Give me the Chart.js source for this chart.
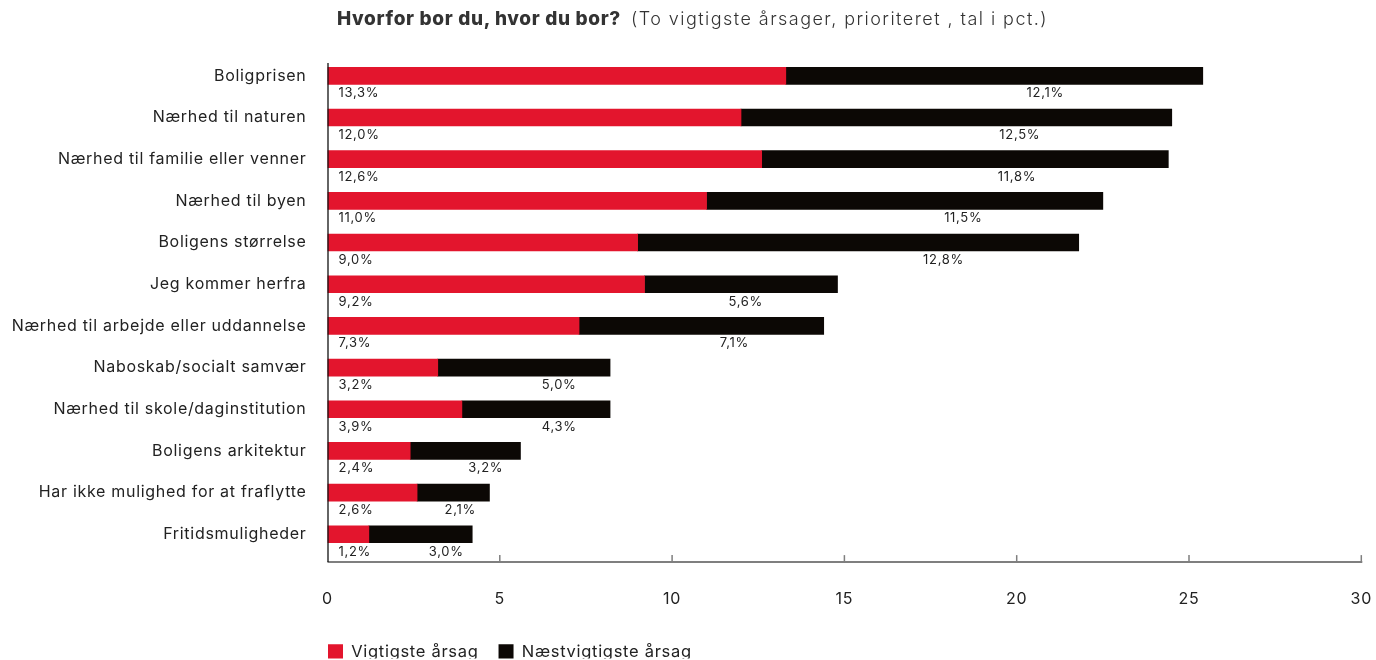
<!DOCTYPE html>
<html>
<head>
<meta charset="utf-8">
<script src="https://cdn.jsdelivr.net/npm/chart.js@4.4.1/dist/chart.umd.min.js"></script>
<style>
  html, body { margin: 0; padding: 0; background: #ffffff; }
  #wrap { position: relative; width: 1376px; height: 660px; overflow: hidden; }
  #c { position: absolute; left: 0; top: 0; }
  .tt { position: absolute; font-family: Inter, "Open Sans", sans-serif; white-space: nowrap; color: #333333; }
  #tBold { left: 337px; top: 9px; font-size: 19px; line-height: 19px; font-weight: 800; }
  #tReg { left: 631px; top: 10px; font-size: 18px; line-height: 18px; font-weight: 300; }
</style>
</head>
<body>
<div id="wrap">
  <canvas id="c" width="1376" height="660"></canvas>
  <div class="tt" id="tBold">Hvorfor bor du, hvor du bor?</div>
  <div class="tt" id="tReg">(To vigtigste årsager, prioriteret , tal i pct.)</div>
</div>
<script>
// ---- data ----
const categories = [
  'Boligprisen',
  'Nærhed til naturen',
  'Nærhed til familie eller venner',
  'Nærhed til byen',
  'Boligens størrelse',
  'Jeg kommer herfra',
  'Nærhed til arbejde eller uddannelse',
  'Naboskab/socialt samvær',
  'Nærhed til skole/daginstitution',
  'Boligens arkitektur',
  'Har ikke mulighed for at fraflytte',
  'Fritidsmuligheder'
];
const vigtigste = [13.3, 12.0, 12.6, 11.0, 9.0, 9.2, 7.3, 3.2, 3.9, 2.4, 2.6, 1.2];
const naestvigtigste = [12.1, 12.5, 11.8, 11.5, 12.8, 5.6, 7.1, 5.0, 4.3, 3.2, 2.1, 3.0];
const seriesNames = ['Vigtigste årsag', 'Næstvigtigste årsag'];
const xMin = 0, xMax = 30, xStep = 5;

// ---- title width fitting ----
function fitWidth(id, target) {
  const el = document.getElementById(id);
  el.style.letterSpacing = '0px';
  const n = el.textContent.length;
  const w = el.getBoundingClientRect().width;
  el.style.letterSpacing = ((target - w) / n) + 'px';
}
function fitTitle() { fitWidth('tBold', 284); fitWidth('tReg', 417); }
fitTitle();
if (document.fonts && document.fonts.ready) document.fonts.ready.then(fitTitle);

const FONT = 'Inter, "Open Sans", sans-serif';
const RED = '#E3152D';
const BLACK = '#0C0805';

function fmt(v) { return v.toFixed(1).replace('.', ',') + '%'; }

const axisAndLabels = {
  id: 'axisAndLabels',
  beforeDraw(chart) {
    chart.ctx.letterSpacing = '0.7px';
  },
  afterLayout(chart) {
    const lg = chart.legend;
    if (lg) { lg.left = 308; lg.top = 624; }
  },
  afterDatasetsDraw(chart) {
    const { ctx, chartArea, scales } = chart;
    const x = scales.x, y = scales.y;
    const x0 = x.getPixelForValue(0);
    const axisY = chartArea.bottom + 7;
    ctx.save();
    // bottom axis line + tick marks
    ctx.strokeStyle = '#7f7f7f';
    ctx.lineWidth = 2;
    ctx.beginPath();
    ctx.moveTo(x0, axisY);
    ctx.lineTo(x.getPixelForValue(xMax) + 1, axisY);
    ctx.stroke();
    ctx.lineWidth = 1.5;
    x.ticks.forEach(t => {
      if (t.value === 0) return;
      const px = x.getPixelForValue(t.value);
      ctx.beginPath();
      ctx.moveTo(px, axisY);
      ctx.lineTo(px, axisY - 7);
      ctx.stroke();
    });
    // left axis line
    ctx.strokeStyle = '#111111';
    ctx.lineWidth = 1.3;
    ctx.beginPath();
    ctx.moveTo(x0 + 0.5, chartArea.top + 8);
    ctx.lineTo(x0 + 0.5, axisY);
    ctx.stroke();
    // value labels
    ctx.fillStyle = '#222222';
    ctx.font = '13px ' + FONT;
    ctx.textBaseline = 'middle';
    categories.forEach((c, i) => {
      const cy = y.getPixelForValue(i) + 17.5;
      ctx.textAlign = 'left';
      ctx.fillText(fmt(vigtigste[i]), x0 + 11, cy);
      const total = vigtigste[i] + naestvigtigste[i];
      ctx.textAlign = 'center';
      ctx.fillText(fmt(naestvigtigste[i]), x.getPixelForValue(total * 0.82), cy);
    });
    ctx.restore();
  }
};

new Chart(document.getElementById('c'), {
  type: 'bar',
  data: {
    labels: categories,
    datasets: [
      { label: seriesNames[0], data: vigtigste, backgroundColor: RED, borderWidth: 0, barThickness: 17 },
      { label: seriesNames[1], data: naestvigtigste, backgroundColor: BLACK, borderWidth: 0, barThickness: 17 }
    ]
  },
  options: {
    indexAxis: 'y',
    responsive: false,
    animation: false,
    devicePixelRatio: 1,
    layout: { padding: { top: 55, right: 14.7, bottom: 1.4, left: 0 } },
    scales: {
      x: {
        stacked: true, min: xMin, max: xMax,
        ticks: { stepSize: xStep, padding: 34, color: '#222222', font: { family: FONT, size: 16 } },
        grid: { display: false, drawTicks: false },
        border: { display: false },
        afterFit(s) { s.height = 57; s.paddingLeft = 0; s.paddingRight = 0; }
      },
      y: {
        stacked: true,
        ticks: { padding: 21, color: '#222222', font: { family: FONT, size: 16 } },
        grid: { display: false, drawTicks: false },
        border: { display: false },
        afterFit(s) { s.width = 327.5; s.paddingTop = 0; s.paddingBottom = 0; }
      }
    },
    plugins: {
      legend: {
        position: 'bottom', align: 'start',
        labels: { boxWidth: 15, boxHeight: 16, padding: 20, color: '#222222', font: { family: FONT, size: 16.5 } }
      },
      tooltip: { enabled: false }
    }
  },
  plugins: [axisAndLabels]
});
</script>
</body>
</html>
